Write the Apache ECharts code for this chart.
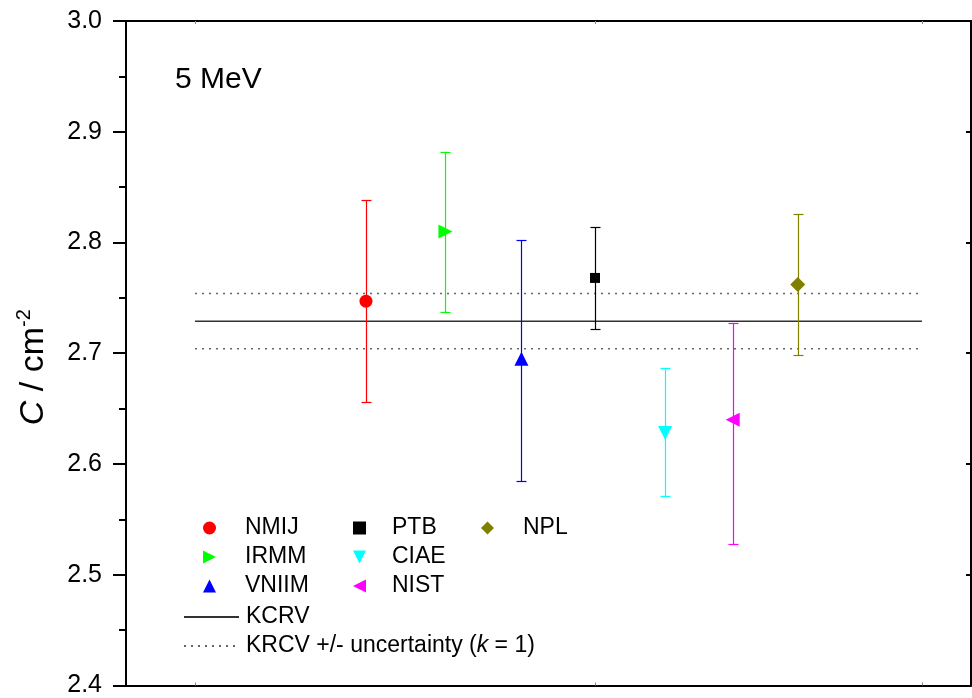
<!DOCTYPE html>
<html>
<head>
<meta charset="utf-8">
<script src="https://cdn.jsdelivr.net/npm/echarts@6/dist/echarts.min.js"></script>
<style>html,body{margin:0;padding:0;background:#fff}#c{width:972px;height:698px}</style>
</head>
<body>
<div id="c"></div>
<script>
// ---- data ----
var labs = ['NMIJ', 'IRMM', 'VNIIM', 'PTB', 'CIAE', 'NIST', 'NPL'];
var xPos = [2.84, 3.78, 4.68, 5.55, 6.38, 7.18, 7.95];
var values = [2.747, 2.810, 2.695, 2.768, 2.628, 2.640, 2.762];
var upper = [2.838, 2.882, 2.802, 2.814, 2.687, 2.727, 2.826];
var lower = [2.656, 2.737, 2.585, 2.722, 2.571, 2.528, 2.698];
var colors = ['#ff0000', '#00ff00', '#0000ff', '#000000', '#00ffff', '#ff00ff', '#808000'];
var symbols = ['circle', 'triangle', 'triangle', 'rect', 'triangle', 'triangle', 'diamond'];
var rotations = [0, -90, 0, 0, 180, 90, 0];
var sizes = [13, 14, 14, 10, 14, 14, 15];
var legendIcons = ['circle', 'path://M0,0L10,5L0,10Z', 'triangle', 'rect',
                   'path://M0,0L10,0L5,10Z', 'path://M10,0L0,5L10,10Z', 'diamond'];
var kcrv = 2.729;
var kcrvLow = 2.704;
var kcrvHigh = 2.754;
var kcrvSpan = [0.817, 9.42];
var yTicks = ['2.4', '2.5', '2.6', '2.7', '2.8', '2.9', '3.0'];
var xTickVals = [0.817, 5.55, 9.42];

var FONT = 'Liberation Sans, Arial, sans-serif';
var chart = echarts.init(document.getElementById('c'), null, {renderer: 'canvas'});

var series = [];
labs.forEach(function (name, i) {
  series.push({
    name: name + '_err',
    type: 'custom',
    silent: true,
    z: 2,
    renderItem: function (params, api) {
      var x = api.value(0);
      var p1 = api.coord([x, api.value(2)]);
      var p2 = api.coord([x, api.value(1)]);
      var cx = Math.round(p1[0]) + 0.5;
      var yt = Math.round(p1[1]) + 0.5;
      var yb = Math.round(p2[1]) + 0.5;
      var hw = 5;
      var st = {stroke: colors[i], lineWidth: 1.2};
      return {
        type: 'group',
        children: [
          {type: 'line', shape: {x1: cx, y1: yt, x2: cx, y2: yb}, style: st},
          {type: 'line', shape: {x1: cx - hw, y1: yt, x2: cx + hw, y2: yt}, style: st},
          {type: 'line', shape: {x1: cx - hw, y1: yb, x2: cx + hw, y2: yb}, style: st}
        ]
      };
    },
    encode: {x: 0, y: [1, 2]},
    data: [[xPos[i], lower[i], upper[i]]]
  });
  series.push({
    name: name,
    type: 'scatter',
    z: 3,
    symbol: symbols[i],
    symbolRotate: rotations[i],
    symbolSize: sizes[i],
    itemStyle: {color: colors[i], opacity: 1},
    data: [[xPos[i], values[i]]]
  });
});
series.push({
  name: 'KCRV', type: 'line', symbol: 'none', showSymbol: false, z: 1,
  lineStyle: {color: '#333', width: 1.5},
  itemStyle: {color: '#333'},
  data: [[kcrvSpan[0], kcrv], [kcrvSpan[1], kcrv]]
});
series.push({
  name: 'KRCV +/- uncertainty (k = 1)', type: 'line', symbol: 'none', showSymbol: false, z: 1,
  lineStyle: {color: '#666', width: 1.5, type: [2, 5]},
  itemStyle: {color: '#666'},
  data: [[kcrvSpan[0], kcrvHigh], [kcrvSpan[1], kcrvHigh]]
});
series.push({
  name: 'KRCV +/- uncertainty (k = 1)', type: 'line', symbol: 'none', showSymbol: false, z: 1,
  lineStyle: {color: '#666', width: 1.5, type: [2, 5]},
  itemStyle: {color: '#666'},
  data: [[kcrvSpan[0], kcrvLow], [kcrvSpan[1], kcrvLow]]
});

var legTxt = {fontFamily: FONT, fontSize: 23, color: '#000', lineHeight: 24};
function legItems(idx) {
  return idx.map(function (i) {
    return {name: labs[i], icon: legendIcons[i]};
  });
}
function leg(data, left, top, pad, extra) {
  var o = {
    data: data, orient: 'vertical', left: left, top: top,
    itemWidth: 13, itemHeight: 13, itemGap: 5, padding: 0,
    selectedMode: false,
    textStyle: Object.assign({}, legTxt, {padding: [0, 0, 0, pad]})
  };
  return Object.assign(o, extra || {});
}

var xAxisBase = {
  type: 'value', min: 0, max: 10,
  axisLine: {show: true, onZero: false, lineStyle: {color: '#000', width: 2}},
  axisTick: {show: true, inside: true, length: 3, customValues: xTickVals, lineStyle: {color: '#888', width: 1}},
  axisLabel: {show: false},
  splitLine: {show: false}
};

var option = {
  animation: false,
  backgroundColor: '#fff',
  title: {
    text: '5 MeV', left: 175, top: 65, padding: 0,
    textStyle: {fontFamily: FONT, fontSize: 30, fontWeight: 'normal', color: '#000'}
  },
  grid: {left: 126, right: 1, top: 21, bottom: 11, containLabel: false},
  xAxis: [
    Object.assign({position: 'bottom'}, xAxisBase),
    Object.assign({position: 'top'}, xAxisBase)
  ],
  yAxis: [
    {
      type: 'value', min: 2.4, max: 3.0, interval: 0.1, position: 'left',
      name: '{i|C} / cm{s|-2}', nameLocation: 'middle', nameGap: 72, nameRotate: 90,
      nameTextStyle: {
        fontFamily: FONT, fontSize: 34, color: '#000', lineHeight: 40, padding: [0, 28, 0, 0],
        rich: {
          i: {fontFamily: FONT, fontSize: 34, fontStyle: 'italic', color: '#000', lineHeight: 40},
          s: {fontFamily: FONT, fontSize: 20, color: '#000', lineHeight: 20, verticalAlign: 'top'}
        }
      },
      axisLine: {show: true, onZero: false, lineStyle: {color: '#000', width: 2}},
      axisTick: {show: true, inside: false, length: 13, lineStyle: {color: '#000', width: 2}},
      minorTick: {show: true, splitNumber: 2, length: 7, lineStyle: {color: '#000', width: 2}},
      axisLabel: {
        margin: 24, fontFamily: FONT, fontSize: 25, color: '#000',
        formatter: function (v) { return yTicks[Math.round((v - 2.4) * 10)]; }
      },
      splitLine: {show: false}
    },
    {
      type: 'value', min: 2.4, max: 3.0, interval: 0.1, position: 'right',
      axisLine: {show: true, onZero: false, lineStyle: {color: '#000', width: 2}},
      axisTick: {show: true, inside: true, length: 5, lineStyle: {color: '#000', width: 2}},
      axisLabel: {show: false},
      splitLine: {show: false}
    }
  ],
  legend: [
    leg(legItems([0, 1, 2]), 203, 516, 24),
    leg(legItems([3, 4, 5]), 353, 516, 21),
    leg(legItems([6]), 481, 516, 24),
    leg(['KCRV', 'KRCV +/- uncertainty (k = 1)'], 183, 605, 2, {
      itemWidth: 55,
      itemStyle: {color: 'rgba(0,0,0,0)', borderWidth: 0, opacity: 0},
      formatter: function (n) {
        return n === 'KCRV' ? n : 'KRCV +/- uncertainty ({i|k} = 1)';
      },
      textStyle: Object.assign({}, legTxt, {
        padding: [0, 0, 0, 2],
        rich: {i: {fontFamily: FONT, fontSize: 23, fontStyle: 'italic', color: '#000', lineHeight: 24}}
      })
    })
  ],
  series: series
};
chart.setOption(option);
</script>
</body>
</html>
